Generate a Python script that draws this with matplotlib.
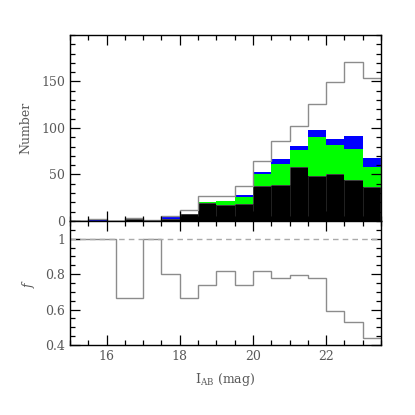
import numpy as np
import matplotlib
matplotlib.use("Agg")
import matplotlib.pyplot as plt
from matplotlib.ticker import MultipleLocator

# --- data ---
# 0.5 mag bins, lower edges
bin_lo = [15.0, 15.5, 16.0, 16.5, 17.0, 17.5, 18.0, 18.5, 19.0,
          19.5, 20.0, 20.5, 21.0, 21.5, 22.0, 22.5, 23.0]
n_total = [0, 2, 0, 3, 1, 5, 12, 27, 27, 38, 65, 86, 102, 126, 149, 171, 154]
n_black = [0, 0, 0, 2, 1, 2, 7, 19, 17, 18, 38, 39, 58, 48, 50, 44, 37]
n_green = [0, 0, 0, 0, 0, 0, 1, 1, 4, 8, 13, 22, 18, 42, 32, 33, 21]
n_blue = [0, 2, 0, 0, 0, 2, 0, 0, 1, 2, 2, 6, 5, 8, 6, 14, 10]

# fraction, only for bins with sources (bin centres)
f_mag = [15.75, 16.75, 17.25, 17.75, 18.25, 18.75, 19.25, 19.75,
         20.25, 20.75, 21.25, 21.75, 22.25, 22.75, 23.25]
f_val = [1.0, 0.667, 1.0, 0.8, 0.667, 0.74, 0.815, 0.737,
         0.815, 0.779, 0.794, 0.778, 0.59, 0.532, 0.442]

top_ticks = [0, 50, 100, 150]
f_ticks = [0.4, 0.6, 0.8, 1.0]
f_ticklabels = ["0.4", "0.6", "0.8", "1"]

bw = 0.5
xlim = (15.0, 23.5)
txt_col = "#595959"
line_gray = "#8c8c8c"

plt.rcParams['font.family'] = ['DejaVu Serif']
plt.rcParams['font.size'] = 9
plt.rcParams['mathtext.fontset'] = 'dejavuserif'

fig = plt.figure(figsize=(4.15, 4.15), dpi=100)
ax1 = fig.add_axes([0.1687, 0.4675, 0.7493, 0.4482])
ax2 = fig.add_axes([0.1687, 0.1687, 0.7493, 0.2988], sharex=ax1)

# --- top: stacked histogram + total outline ---
lo = np.array(bin_lo)
b = np.array(n_black)
g = np.array(n_green)
u = np.array(n_blue)
ax1.bar(lo, b, width=bw, align='edge', color='black', edgecolor='#222222', linewidth=0.5)
ax1.bar(lo, g, width=bw, align='edge', bottom=b, color='#00ff00', linewidth=0)
ax1.bar(lo, u, width=bw, align='edge', bottom=b + g, color='#0000ff', linewidth=0)
edges = np.append(lo, lo[-1] + bw)
ax1.stairs(n_total, edges, color=line_gray, linewidth=1.0)
ax1.set_ylim(0, 200)
ax1.set_ylabel("Number", color=txt_col, labelpad=6)

# --- bottom: fraction ---
fm = np.array(f_mag)
f_edges = np.concatenate([[xlim[0]], (fm[:-1] + fm[1:]) / 2, [xlim[1]]])
ax2.axhline(1.0, color='#aaaaaa', linestyle=(0, (4, 3)), linewidth=1.0)
ax2.stairs(f_val, f_edges, baseline=None, color=line_gray, linewidth=1.0)
ax2.set_ylim(0.4, 1.1)
ax2.set_ylabel(r"$f$", color=txt_col, labelpad=6)
ax2.set_xlabel(r"I$_{\rm AB}$ (mag)", color=txt_col, labelpad=6)
ax2.set_xlim(*xlim)

# axis formatting
ax1.set_yticks(top_ticks)
ax1.yaxis.set_minor_locator(MultipleLocator(10))
ax2.set_yticks(f_ticks)
ax2.set_yticklabels(f_ticklabels)
ax2.yaxis.set_minor_locator(MultipleLocator(0.05))
ax2.xaxis.set_major_locator(MultipleLocator(2))
ax2.xaxis.set_minor_locator(MultipleLocator(0.5))
for ax in (ax1, ax2):
    ax.tick_params(which='both', direction='in', top=True, right=True,
                   colors='black', labelcolor=txt_col, width=0.9)
    ax.tick_params(which='major', length=7)
    ax.tick_params(which='minor', length=3.5)
    for sp in ax.spines.values():
        sp.set_linewidth(1.0)
plt.setp(ax1.get_xticklabels(), visible=False)

fig.savefig("out.png", dpi=100)
